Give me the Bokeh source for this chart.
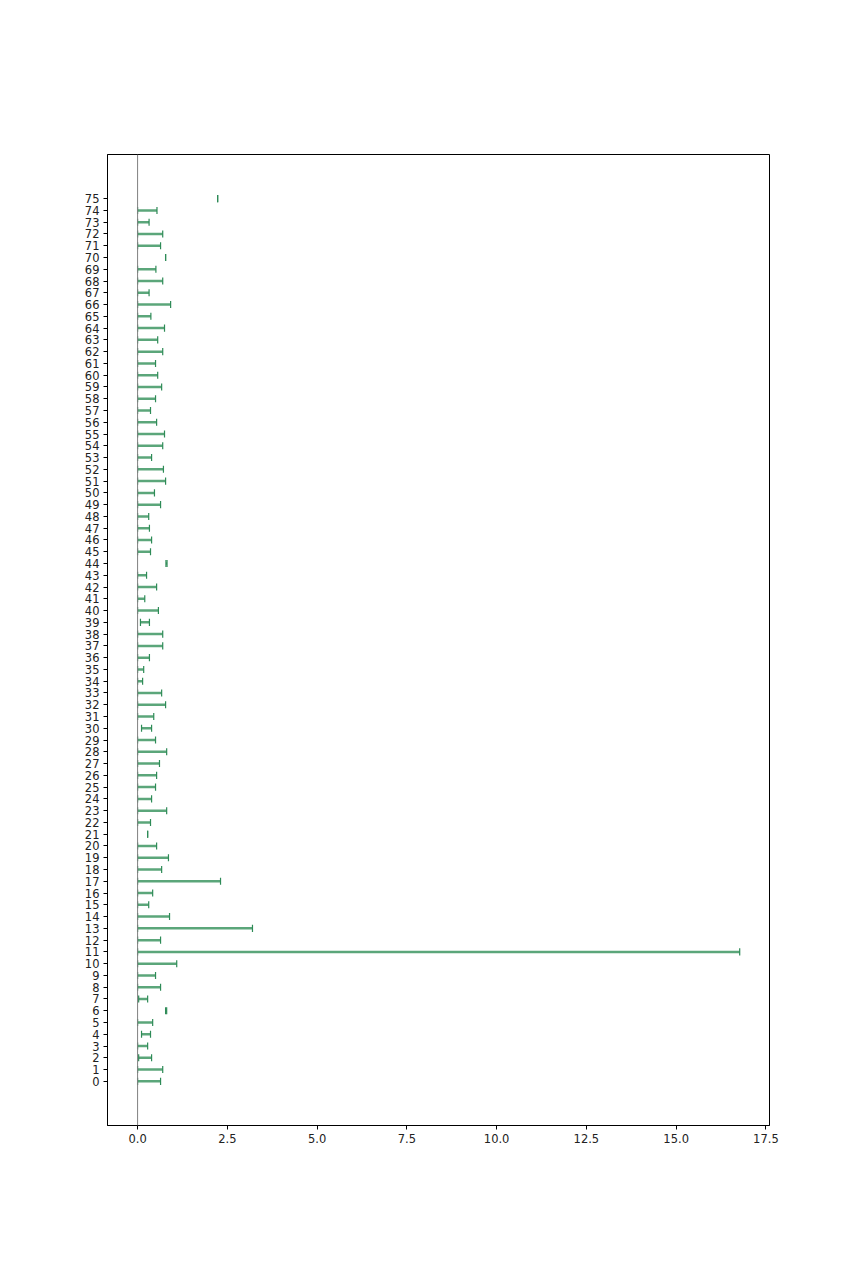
from bokeh.plotting import figure
from bokeh.models import ColumnDataSource, FixedTicker, Span, Range1d, PrintfTickFormatter
from bokeh.embed import file_html
from bokeh.resources import INLINE

rows = list(range(76))
low = [0, 0, 0.03, 0, 0.11, 0, 0.78, 0.03, 0, 0,
       0, 0, 0, 0, 0, 0, 0, 0, 0, 0,
       0, 0.28, 0, 0, 0, 0, 0, 0, 0, 0,
       0.11, 0, 0, 0, 0, 0, 0, 0, 0, 0.08,
       0, 0, 0, 0, 0.79, 0, 0, 0, 0, 0,
       0, 0, 0, 0, 0, 0, 0, 0, 0, 0,
       0, 0, 0, 0, 0, 0, 0, 0, 0, 0,
       0.78, 0, 0, 0, 0, 2.23]
high = [0.64, 0.70, 0.39, 0.28, 0.36, 0.42, 0.81, 0.28, 0.64, 0.50,
        1.09, 16.77, 0.64, 3.20, 0.89, 0.31, 0.42, 2.31, 0.67, 0.86,
        0.53, 0.28, 0.36, 0.81, 0.39, 0.50, 0.53, 0.61, 0.81, 0.50,
        0.39, 0.45, 0.78, 0.67, 0.14, 0.17, 0.33, 0.70, 0.70, 0.33,
        0.58, 0.20, 0.53, 0.25, 0.82, 0.36, 0.39, 0.33, 0.31, 0.64,
        0.47, 0.78, 0.72, 0.39, 0.70, 0.75, 0.53, 0.36, 0.50, 0.67,
        0.56, 0.50, 0.70, 0.56, 0.75, 0.37, 0.92, 0.32, 0.70, 0.51,
        0.78, 0.64, 0.70, 0.32, 0.54, 2.23]
x_ticks = [0, 2.5, 5, 7.5, 10, 12.5, 15, 17.5]

cap = 0.3
src = ColumnDataSource(dict(
    y=rows, low=low, high=high,
    y0=[r - cap for r in rows], y1=[r + cap for r in rows],
))

p = figure(width=854, height=1286, output_backend="svg", toolbar_location=None,
           x_range=Range1d(-0.838, 17.6), y_range=Range1d(-3.75, 78.75),
           min_border_left=107, min_border_right=85, min_border_top=154,
           min_border_bottom=161)

p.xgrid.visible = False
p.ygrid.visible = False
p.outline_line_color = "black"
p.outline_line_width = 1
p.background_fill_color = "white"
p.border_fill_color = "white"

p.add_layout(Span(location=0, dimension="height", line_color="#808080", line_width=1))

p.segment(x0="low", y0="y", x1="high", y1="y", source=src, line_color="#5ba67a", line_width=2.5)
p.segment(x0="low", y0="y0", x1="low", y1="y1", source=src, line_color="#2e8b57", line_width=1.2)
p.segment(x0="high", y0="y0", x1="high", y1="y1", source=src, line_color="#2e8b57", line_width=1.2)

p.xaxis.ticker = FixedTicker(ticks=x_ticks)
p.xaxis.formatter = PrintfTickFormatter(format="%.1f")
p.yaxis.ticker = FixedTicker(ticks=rows)
for ax in (p.xaxis, p.yaxis):
    ax.major_label_text_font = "DejaVu Sans"
    ax.major_label_text_font_size = "11.5px"
    ax.major_label_text_color = "#222222"
    ax.axis_line_color = "black"
    ax.major_tick_line_color = "black"
    ax.major_tick_in = 0
    ax.major_tick_out = 4
    ax.minor_tick_line_color = None
p.yaxis.major_label_standoff = 4
p.xaxis.major_label_standoff = 4

open("out.html", "w").write(file_html(p, INLINE))
